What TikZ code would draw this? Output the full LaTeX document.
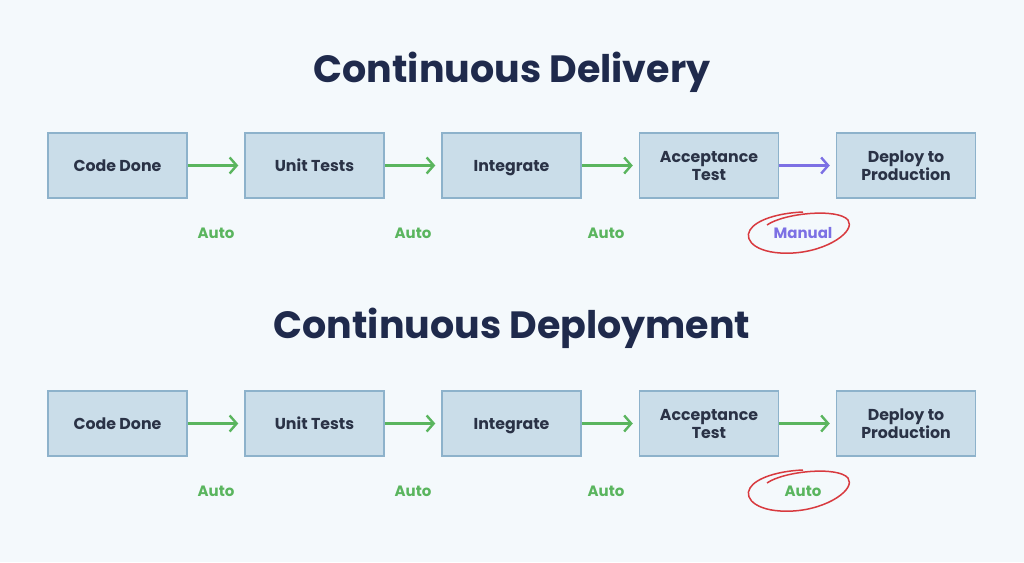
\documentclass[tikz,border=0pt]{standalone}
\usepackage{fontspec}
\setmainfont{Poppins}
\usetikzlibrary{arrows.meta}
\definecolor{bg}{HTML}{F4F9FC}
\definecolor{boxfill}{HTML}{CADDE9}
\definecolor{boxline}{HTML}{8DB2CB}
\definecolor{txt}{HTML}{2A3246}
\definecolor{navy}{HTML}{1F2A4C}
\definecolor{grn}{HTML}{5AB55E}
\definecolor{purp}{HTML}{7C70E4}
\definecolor{redc}{HTML}{D83A3F}
\newcommand{\topst}{\rule{0pt}{16.5pt}}
\newcommand{\botst}{\rule[-5pt]{0pt}{5pt}}
\tikzset{
  stage/.style={draw=boxline, fill=boxfill, line width=1.5pt, minimum width=139pt, minimum height=65pt,
    align=center, font=\fontsize{15.8}{18.5}\selectfont\bfseries, text=txt, inner sep=0pt},
  title/.style={font=\fontsize{38}{40}\selectfont\bfseries, text=navy},
  flow/.style={line width=2.4pt, -{Straight Barb[length=7pt,width=16pt,line width=2.4pt]}},
  auto/.style={font=\fontsize{15}{17}\selectfont\bfseries, text=grn},
  manual/.style={font=\fontsize{15}{17}\selectfont\bfseries, text=purp},
  ring/.style={draw=redc, line width=1.5pt}
}
\begin{document}
\begin{tikzpicture}[x=1pt,y=-1pt]
\fill[bg] (0,0) rectangle (1024,562);
\useasboundingbox (0,0) rectangle (1024,562);
\node[title] (t1) at (512,72) {Continuous Delivery};
\node[title] (t2) at (512,328) {Continuous Deployment};
\foreach \r/\y in {a/165.5, b/423.5}{
  \node[stage] (\r1) at (117.5,\y) {\topst\botst Code Done};
  \node[stage] (\r2) at (314.5,\y) {\topst\botst Unit Tests};
  \node[stage] (\r3) at (511.5,\y) {\topst\botst Integrate};
  \node[stage] (\r4) at (709,\y) {\topst Acceptance\\\botst Test};
  \node[stage] (\r5) at (906,\y) {\topst Deploy to\\\botst Production};
}
\draw[flow, grn] (a1.east) -- ([xshift=-6pt]a2.west);
\draw[flow, grn] (a2.east) -- ([xshift=-6pt]a3.west);
\draw[flow, grn] (a3.east) -- ([xshift=-6pt]a4.west);
\draw[flow, purp] (a4.east) -- ([xshift=-6pt]a5.west);
\draw[flow, grn] (b1.east) -- ([xshift=-6pt]b2.west);
\draw[flow, grn] (b2.east) -- ([xshift=-6pt]b3.west);
\draw[flow, grn] (b3.east) -- ([xshift=-6pt]b4.west);
\draw[flow, grn] (b4.east) -- ([xshift=-6pt]b5.west);
\node[auto] (la1) at (216,233) {Auto};
\node[auto] (la2) at (413,233) {Auto};
\node[auto] (la3) at (606,233) {Auto};
\node[manual] (la4) at (803,233) {Manual};
\node[auto] (lb1) at (216,491) {Auto};
\node[auto] (lb2) at (413,491) {Auto};
\node[auto] (lb3) at (606,491) {Auto};
\node[auto] (lb4) at (803,491) {Auto};
\foreach \c/\yy in {la4/233, lb4/491}{
  \begin{scope}[shift={(798,\yy)}]
  \draw[ring] (-31,-8) .. controls (-14,-20) and (40,-25) .. (50,-13)
    .. controls (58,-2) and (30,18) .. (-5,20)
    .. controls (-40,22) and (-55,8) .. (-48,-3)
    .. controls (-42,-13) and (-20,-20) .. (5,-21);
  \end{scope}
}
\end{tikzpicture}
\end{document}
